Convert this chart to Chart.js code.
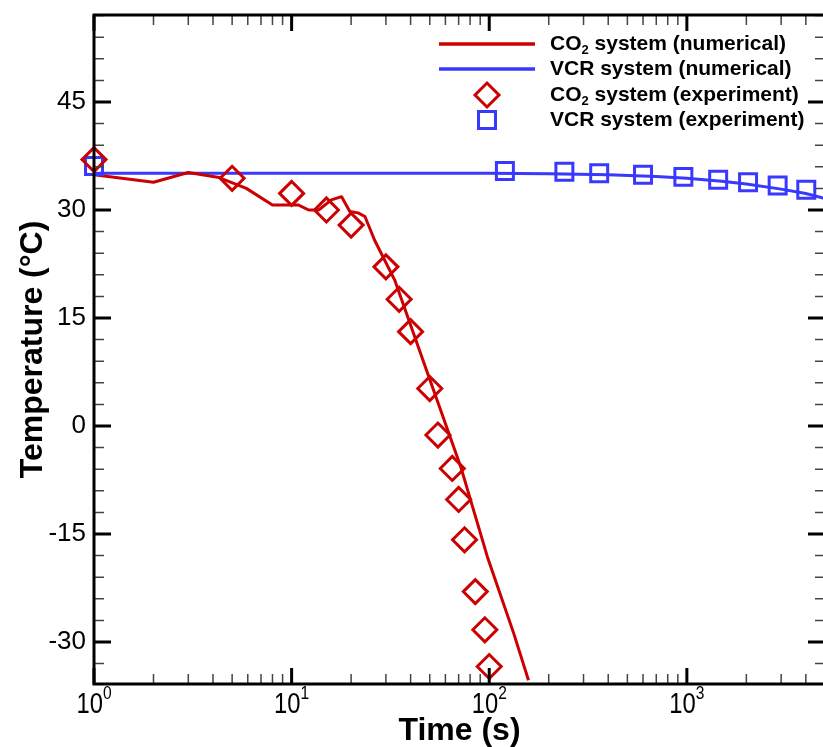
<!DOCTYPE html>
<html lang="en">
<head>
<meta charset="UTF-8">
<title>Temperature vs time</title>
<script src="https://cdn.jsdelivr.net/npm/chart.js"></script>
<style>
  body { margin: 0; padding: 0; overflow: hidden; background: #fff; }
  #wrap { width: 823px; height: 747px; overflow: hidden; }
</style>
</head>
<body>
<div id="wrap"><canvas id="tempChart" width="840" height="747"></canvas></div>
<script>
// CO2 system, numerical model
const co2NumTime = [1, 2, 3, 4.3, 5.9, 8, 10.8, 12.2, 13.7, 15.9, 17.9, 19.7, 21.7, 23.5, 26.3, 33.2, 48.8, 71.7, 97.8, 133, 158];
const co2NumTemp = [34.9, 33.85, 35.2, 34.5, 33.0, 30.7, 30.7, 30.0, 30.0, 31.4, 31.85, 29.8, 29.6, 29.1, 25.8, 20.3, 7.3, -5.65, -18.15, -28.8, -35.3];

// VCR system, numerical model
const vcrNumTime = [1, 10, 100, 200, 400, 700, 1000, 1500, 2000, 3000, 4000, 5000];
const vcrNumTemp = [35.1, 35.1, 35.1, 35.05, 34.9, 34.65, 34.4, 34.0, 33.6, 32.9, 32.3, 31.6];

// CO2 system, measured
const co2ExpTime = [1, 5, 10, 15, 20, 30, 35, 40, 50, 55, 65, 70, 75, 85, 95, 100];
const co2ExpTemp = [37.0, 34.4, 32.3, 30.0, 27.9, 22.1, 17.6, 13.1, 5.2, -1.25, -5.9, -10.2, -15.8, -23.0, -28.3, -33.4];

// VCR system, measured
const vcrExpTime = [1, 120, 240, 360, 600, 960, 1440, 2040, 2880, 4020];
const vcrExpTemp = [36.1, 35.4, 35.3, 35.1, 34.9, 34.6, 34.2, 33.85, 33.4, 32.8];

const xMajor = [1, 10, 100, 1000];
const xMajorExp = ['0', '1', '2', '3'];
const yMajor = [-30, -15, 0, 15, 30, 45];

const legendItems = [
  { base: 'CO', sub: '2', rest: ' system (numerical)', ds: 0, kind: 'line' },
  { base: 'VCR system (numerical)', sub: '', rest: '', ds: 1, kind: 'line' },
  { base: 'CO', sub: '2', rest: ' system (experiment)', ds: 2, kind: 'point' },
  { base: 'VCR system (experiment)', sub: '', rest: '', ds: 3, kind: 'point' }
];

const RED = '#cc0000';
const BLUE = '#3838ff';
const FONT = "'Liberation Sans', Arial, Helvetica, sans-serif";

function pairs(xs, ys) {
  return xs.map((t, i) => ({ x: t, y: ys[i] }));
}

// axes frame, inward ticks, labels, titles and legend
const framePlugin = {
  id: 'frame',
  afterDatasetsDraw(chart) {
    const { ctx, chartArea: a, scales: { x, y } } = chart;
    ctx.save();

    function xTick(v, len, w, col) {
      const px = x.getPixelForValue(v);
      ctx.strokeStyle = col; ctx.lineWidth = w;
      ctx.beginPath();
      ctx.moveTo(px, a.bottom); ctx.lineTo(px, a.bottom - len);
      ctx.moveTo(px, a.top); ctx.lineTo(px, a.top + len);
      ctx.stroke();
    }
    function yTick(v, len, w, col) {
      const py = y.getPixelForValue(v);
      ctx.strokeStyle = col; ctx.lineWidth = w;
      ctx.beginPath();
      ctx.moveTo(a.left, py); ctx.lineTo(a.left + len, py);
      ctx.moveTo(a.right, py); ctx.lineTo(a.right - len, py);
      ctx.stroke();
    }

    // minor ticks
    for (let d = 0; d < 4; d++) {
      for (let m = 2; m <= 9; m++) {
        const v = m * Math.pow(10, d);
        if (v <= x.max) xTick(v, 10, 1.5, '#444');
      }
    }
    for (let v = -33; v <= y.max; v += 3) {
      if (v % 15 !== 0) yTick(v, 10, 1.5, '#444');
    }
    // major ticks
    xMajor.forEach(v => xTick(v, 16, 3, '#000'));
    yMajor.forEach(v => yTick(v, 17, 3, '#000'));

    // frame
    ctx.strokeStyle = '#000';
    ctx.lineWidth = 3;
    ctx.strokeRect(a.left, a.top, a.right - a.left, a.bottom - a.top);

    // y tick labels
    ctx.fillStyle = '#000';
    ctx.font = '26px ' + FONT;
    ctx.textAlign = 'right';
    ctx.textBaseline = 'middle';
    yMajor.forEach(v => ctx.fillText(String(v), a.left - 8, y.getPixelForValue(v)));

    // x tick labels: 10 with superscript exponent, narrow face
    const sx = 0.82;
    xMajor.forEach((v, i) => {
      const px = x.getPixelForValue(v);
      ctx.font = '29px ' + FONT;
      const wBase = ctx.measureText('10').width * sx;
      ctx.font = '19px ' + FONT;
      const wSup = ctx.measureText(xMajorExp[i]).width * sx;
      const left = px - (wBase + wSup) / 2;
      ctx.save();
      ctx.textAlign = 'left';
      ctx.textBaseline = 'alphabetic';
      ctx.translate(left, 713);
      ctx.scale(sx, 1);
      ctx.font = '29px ' + FONT;
      ctx.fillText('10', 0, 0);
      ctx.font = '19px ' + FONT;
      ctx.fillText(xMajorExp[i], wBase / sx, -14);
      ctx.restore();
    });

    // axis titles
    ctx.font = 'bold 32px ' + FONT;
    ctx.textAlign = 'center';
    ctx.textBaseline = 'alphabetic';
    ctx.fillText('Time (s)', (a.left + a.right) / 2, 740);
    ctx.save();
    ctx.translate(42, (a.top + a.bottom) / 2);
    ctx.rotate(-Math.PI / 2);
    ctx.fillText('Temperature (\u00B0C)', 0, 0);
    ctx.restore();

    // legend
    const rowY = [44, 69, 95, 120];
    legendItems.forEach((it, i) => {
      const ds = chart.data.datasets[it.ds];
      const cy = rowY[i];
      if (it.kind === 'line') {
        ctx.strokeStyle = ds.borderColor;
        ctx.lineWidth = 3.5;
        ctx.beginPath();
        ctx.moveTo(439, cy); ctx.lineTo(535, cy);
        ctx.stroke();
      } else {
        ctx.fillStyle = 'rgba(0,0,0,0)';
        ctx.strokeStyle = ds.borderColor;
        ctx.lineWidth = ds.borderWidth;
        Chart.helpers.drawPoint(ctx, {
          pointStyle: ds.pointStyle, radius: ds.pointRadius,
          borderWidth: ds.borderWidth, rotation: 0
        }, 487, cy);
      }
      ctx.fillStyle = '#000';
      ctx.textAlign = 'left';
      ctx.textBaseline = 'middle';
      let tx = 550;
      ctx.font = 'bold 21px ' + FONT;
      ctx.fillText(it.base, tx, cy);
      tx += ctx.measureText(it.base).width;
      if (it.sub) {
        ctx.font = 'bold 13px ' + FONT;
        ctx.fillText(it.sub, tx, cy + 6);
        tx += ctx.measureText(it.sub).width;
        ctx.font = 'bold 21px ' + FONT;
        ctx.fillText(it.rest, tx, cy);
      }
    });

    ctx.restore();
  }
};

new Chart(document.getElementById('tempChart'), {
  type: 'scatter',
  data: {
    datasets: [
      {
        label: 'CO2 system (numerical)',
        data: pairs(co2NumTime, co2NumTemp),
        showLine: true, pointRadius: 0, borderColor: RED, borderWidth: 3,
        borderJoinStyle: 'round', order: 3
      },
      {
        label: 'VCR system (numerical)',
        data: pairs(vcrNumTime, vcrNumTemp),
        showLine: true, pointRadius: 0, borderColor: BLUE, borderWidth: 3,
        order: 4
      },
      {
        label: 'CO2 system (experiment)',
        data: pairs(co2ExpTime, co2ExpTemp),
        showLine: false, pointStyle: 'rectRot', pointRadius: 12,
        borderColor: RED, backgroundColor: 'rgba(0,0,0,0)', borderWidth: 3,
        clip: false, order: 1
      },
      {
        label: 'VCR system (experiment)',
        data: pairs(vcrExpTime, vcrExpTemp),
        showLine: false, pointStyle: 'rect', pointRadius: 12,
        borderColor: BLUE, backgroundColor: 'rgba(0,0,0,0)', borderWidth: 3,
        clip: false, order: 2
      }
    ]
  },
  options: {
    responsive: false,
    animation: false,
    layout: { padding: { left: 94, top: 15, right: 10, bottom: 63 } },
    plugins: { legend: { display: false }, tooltip: { enabled: false } },
    scales: {
      x: { type: 'logarithmic', min: 1, max: 5000, display: false },
      y: { type: 'linear', min: -35.83, max: 57.08, display: false }
    }
  },
  plugins: [framePlugin]
});
</script>
</body>
</html>
